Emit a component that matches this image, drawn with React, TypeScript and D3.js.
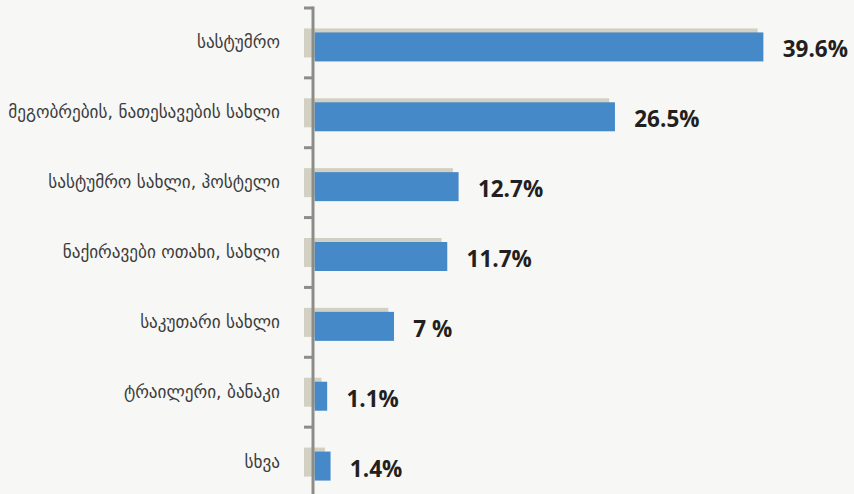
import React from "react";
import * as d3 from "d3";

const categories = [
  "სასტუმრო",
  "მეგობრების, ნათესავების სახლი",
  "სასტუმრო სახლი, ჰოსტელი",
  "ნაქირავები ოთახი, სახლი",
  "საკუთარი სახლი",
  "ტრაილერი, ბანაკი",
  "სხვა",
];
const values = [39.6, 26.5, 12.7, 11.7, 7, 1.1, 1.4];
const valueLabels = ["39.6%", "26.5%", "12.7%", "11.7%", "7 %", "1.1%", "1.4%"];

const W = 854;
const H = 494;
const AXIS_X = 313;
const BAR_H = 29;

export default function App() {
  const x = d3.scaleLinear().domain([0, 40]).range([314, 314 + 40 * 11.33]);
  const y = d3.scaleBand<string>().domain(categories).range([8, 497]).padding(0);
  const step = y.step();
  const ticks = d3.range(categories.length + 1).map((i) => 8 + i * step);

  return (
    <svg
      width={W}
      height={H}
      style={{ position: "absolute", left: 0, top: 0, display: "block" }}
    >
      <rect x={0} y={0} width={W} height={H} fill="#f7f7f5" />
      {categories.map((c, i) => {
        const cy = (y(c) as number) + step / 2;
        const v = values[i];
        return (
          <g key={c}>
            <rect x={304} y={cy - 14.5} width={Math.max(0, x(v) - 309)} height={BAR_H} fill="#d2d0c3" />
          </g>
        );
      })}
      <line x1={AXIS_X} x2={AXIS_X} y1={6.5} y2={H} stroke="#8d8d87" strokeWidth={3} />
      {ticks.map((t, i) => (
        <line key={i} x1={304} x2={AXIS_X} y1={t} y2={t} stroke="#8d8d87" strokeWidth={3} />
      ))}
      {categories.map((c, i) => {
        const cy = (y(c) as number) + step / 2;
        const v = values[i];
        return (
          <g key={c + "b"}>
            <rect x={x(0) + 0.7} y={cy - 10.5} width={x(v) - x(0)} height={BAR_H} fill="#4589c8" />
            <text
              x={280}
              y={cy + 5.5}
              textAnchor="end"
              fontFamily="DejaVu Sans"
              fontSize={17.2}
              fill="#3c3c3c"
            >
              {c}
            </text>
            <text
              x={x(v) + 20}
              y={cy + 14.5}
              fontFamily="Open Sans"
              fontWeight={700}
              fontSize={22.5}
              fill="#231f20"
            >
              {valueLabels[i]}
            </text>
          </g>
        );
      })}
    </svg>
  );
}
